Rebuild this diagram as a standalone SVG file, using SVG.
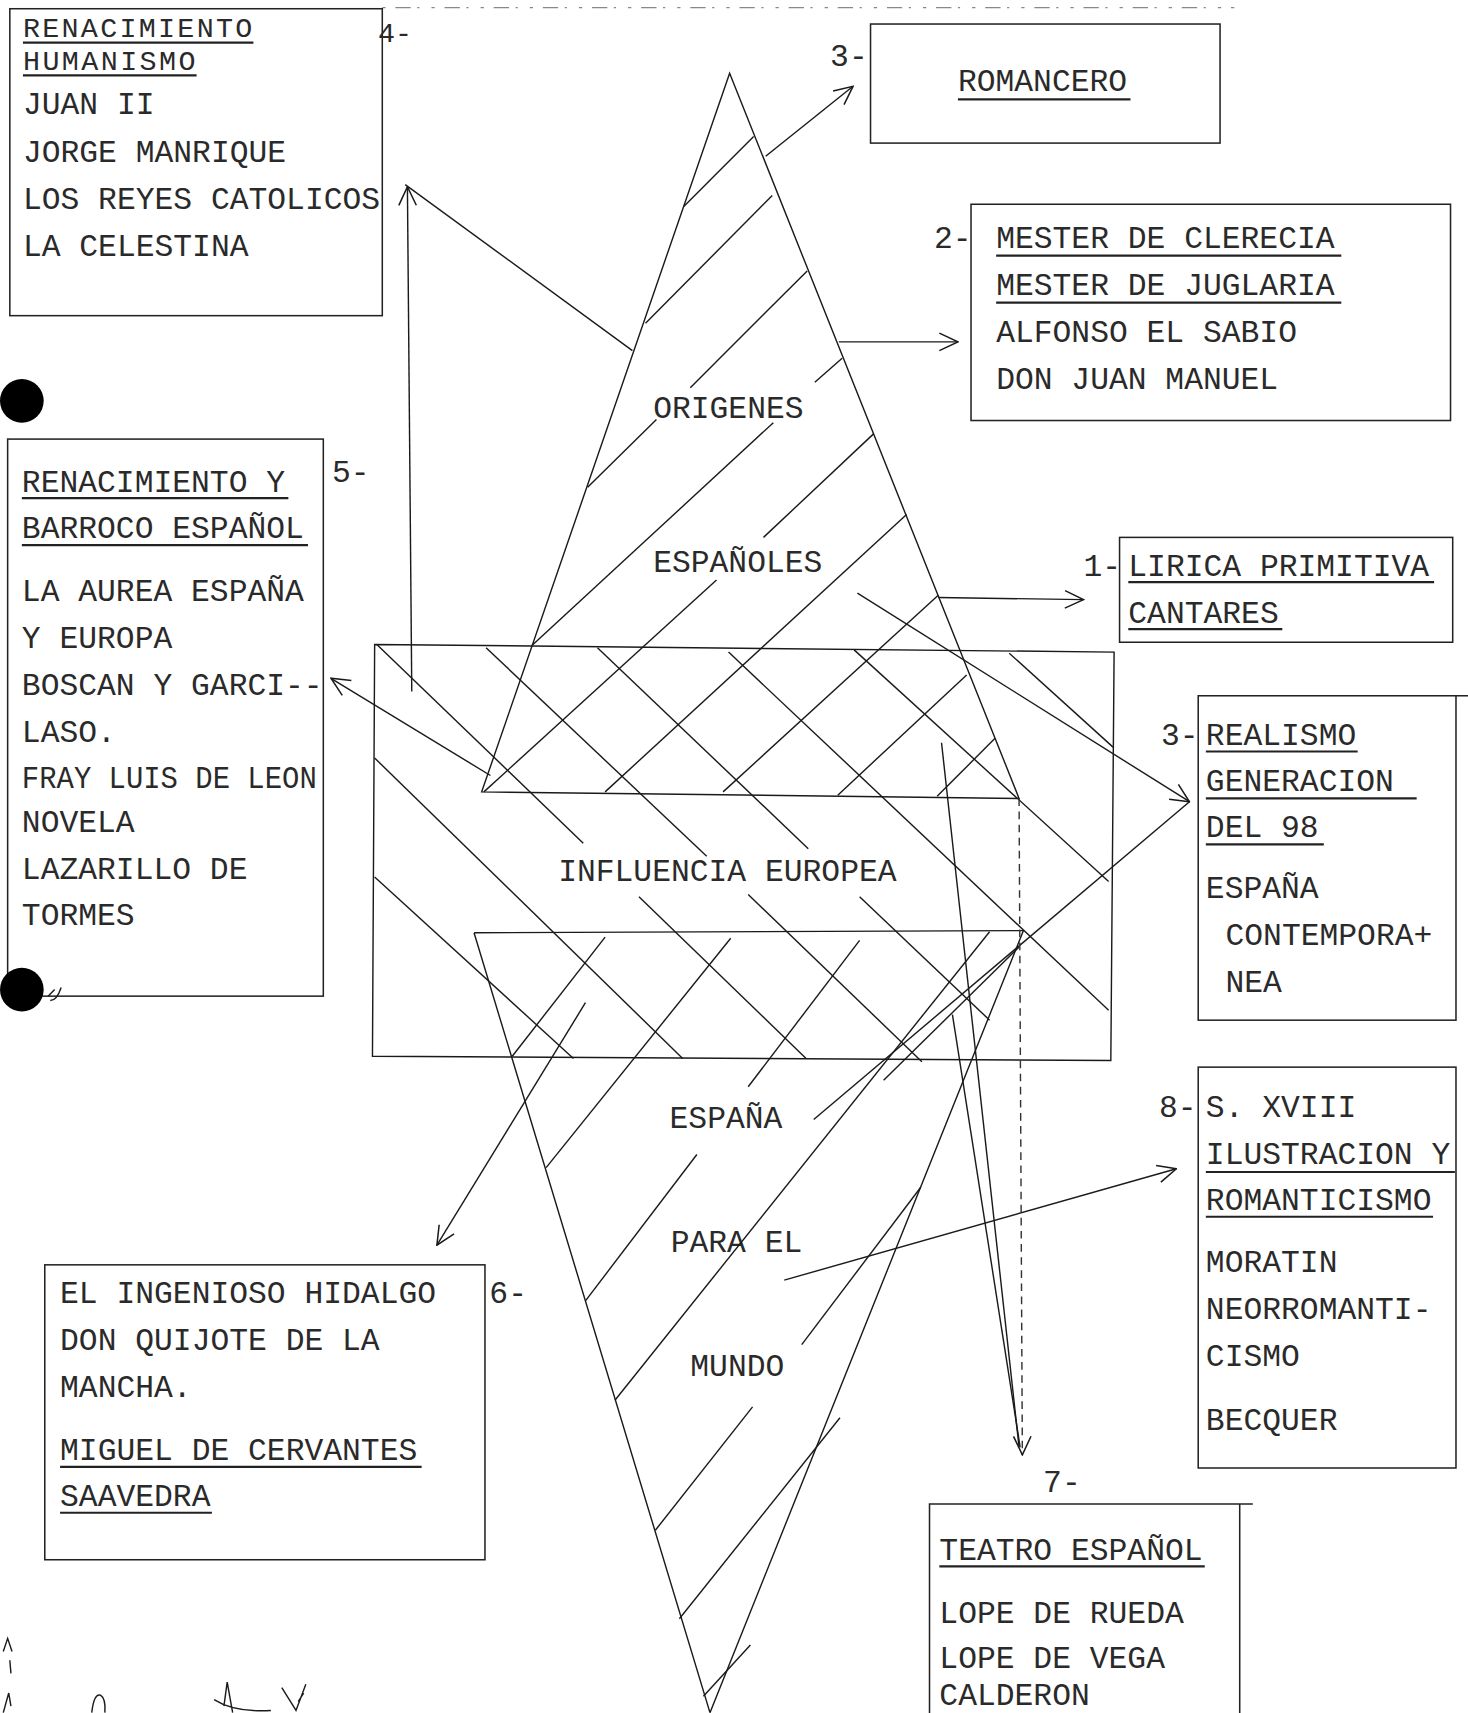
<svg xmlns="http://www.w3.org/2000/svg" width="1468" height="1713" viewBox="0 0 1468 1713">
<defs>
<style>
.t{font-family:"Liberation Mono","DejaVu Sans Mono",monospace;font-size:28.7px;fill:#2a2a2a}
.s{font-size:26px}
.box{fill:none;stroke:#222;stroke-width:1.4}
.ul{stroke:#222;stroke-width:2;fill:none}
.ln{stroke:#1a1a1a;stroke-width:1.3;fill:none}
.dash{stroke:#333;stroke-width:1.3;stroke-dasharray:7 5;fill:none}
.noise{stroke:#888;stroke-width:1.1;stroke-dasharray:3 9 14 6 2 11;fill:none}
</style>
<marker id="ah" viewBox="0 0 20 20" refX="19" refY="10" markerWidth="20" markerHeight="20" markerUnits="userSpaceOnUse" orient="auto"><path d="M2,2 L19,10 L2,18" fill="none" stroke="#1a1a1a" stroke-width="1.4"/></marker>
</defs>
<rect width="1468" height="1713" fill="#fff"/>
<g transform="scale(1.09226)">

<path class="noise" d="M350,7 H1130"/>

<g id="n4">
<rect class="box" x="9" y="8" width="341" height="281"/>
<text class="t s" x="21" y="34" textLength="210" lengthAdjust="spacing">RENACIMIENTO</text>
<line class="ul" x1="21" y1="39" x2="232" y2="39"/>
<text class="t s" x="21" y="64" textLength="158" lengthAdjust="spacing">HUMANISMO</text>
<line class="ul" x1="21" y1="69" x2="180" y2="69"/>
<text class="t" x="21" y="104">JUAN II</text>
<text class="t" x="21" y="148">JORGE MANRIQUE</text>
<text class="t" x="21" y="191">LOS REYES CATOLICOS</text>
<text class="t" x="21" y="234">LA CELESTINA</text>
<text class="t s" x="346" y="38">4-</text>
</g>

<g id="n3a">
<rect class="box" x="797" y="22" width="320" height="109"/>
<text class="t" x="877" y="83">ROMANCERO</text>
<line class="ul" x1="877" y1="91" x2="1035" y2="91"/>
<text class="t" x="760" y="60">3-</text>
</g>

<g id="n2">
<rect class="box" x="889" y="187" width="439" height="198"/>
<text class="t" x="912" y="227">MESTER DE CLERECIA</text>
<line class="ul" x1="912" y1="234" x2="1228" y2="234"/>
<text class="t" x="912" y="270">MESTER DE JUGLARIA</text>
<line class="ul" x1="912" y1="277" x2="1228" y2="277"/>
<text class="t" x="912" y="313">ALFONSO EL SABIO</text>
<text class="t" x="912" y="356">DON JUAN MANUEL</text>
<text class="t" x="855" y="227">2-</text>
</g>

<g id="n1">
<rect class="box" x="1025" y="492" width="305" height="96"/>
<text class="t" x="1033" y="527">LIRICA PRIMITIVA</text>
<line class="ul" x1="1033" y1="533" x2="1313" y2="533"/>
<text class="t" x="1033" y="570">CANTARES</text>
<line class="ul" x1="1033" y1="576" x2="1174" y2="576"/>
<text class="t" x="992" y="527">1-</text>
</g>

<g id="n3b">
<rect class="box" x="1097" y="637" width="236" height="297"/>
<line class="box" x1="1333" y1="637" x2="1344" y2="637"/>
<text class="t" x="1104" y="682">REALISMO</text>
<line class="ul" x1="1104" y1="688" x2="1243" y2="688"/>
<text class="t" x="1104" y="724">GENERACION</text>
<line class="ul" x1="1104" y1="731" x2="1297" y2="731"/>
<text class="t" x="1104" y="766">DEL 98</text>
<line class="ul" x1="1104" y1="773" x2="1212" y2="773"/>
<text class="t" x="1104" y="822">ESPAÑA</text>
<text class="t" x="1122" y="865">CONTEMPORA+</text>
<text class="t" x="1122" y="908">NEA</text>
<text class="t" x="1063" y="682">3-</text>
</g>

<g id="n8">
<rect class="box" x="1097" y="977" width="236" height="367"/>
<text class="t" x="1104" y="1023">S. XVIII</text>
<text class="t" x="1104" y="1066">ILUSTRACION Y</text>
<line class="ul" x1="1104" y1="1073" x2="1332" y2="1073"/>
<text class="t" x="1104" y="1108">ROMANTICISMO</text>
<line class="ul" x1="1104" y1="1114" x2="1312" y2="1114"/>
<text class="t" x="1104" y="1165">MORATIN</text>
<text class="t" x="1104" y="1208">NEORROMANTI-</text>
<text class="t" x="1104" y="1251">CISMO</text>
<text class="t" x="1104" y="1309">BECQUER</text>
<text class="t" x="1061" y="1023">8-</text>
</g>

<g id="n7">
<path class="box" d="M851,1600 V1377 H1147 M1135,1377 V1600"/>
<text class="t" x="860" y="1428">TEATRO ESPAÑOL</text>
<line class="ul" x1="860" y1="1434" x2="1103" y2="1434"/>
<text class="t" x="860" y="1486">LOPE DE RUEDA</text>
<text class="t" x="860" y="1527">LOPE DE VEGA</text>
<text class="t" x="860" y="1561">CALDERON</text>
<text class="t" x="955" y="1366">7-</text>
</g>

<g id="n6">
<rect class="box" x="41" y="1158" width="403" height="270"/>
<text class="t" x="55" y="1193">EL INGENIOSO HIDALGO</text>
<text class="t" x="55" y="1236">DON QUIJOTE DE LA</text>
<text class="t" x="55" y="1279">MANCHA.</text>
<text class="t" x="55" y="1337">MIGUEL DE CERVANTES</text>
<line class="ul" x1="55" y1="1343" x2="386" y2="1343"/>
<text class="t" x="55" y="1379">SAAVEDRA</text>
<line class="ul" x1="55" y1="1385" x2="194" y2="1385"/>
<text class="t" x="448" y="1193">6-</text>
</g>

<g id="n5">
<rect class="box" x="7" y="402" width="289" height="510"/>
<text class="t" x="20" y="450">RENACIMIENTO Y</text>
<line class="ul" x1="20" y1="456" x2="264" y2="456"/>
<text class="t" x="20" y="493">BARROCO ESPAÑOL</text>
<line class="ul" x1="20" y1="499" x2="282" y2="499"/>
<text class="t" x="20" y="550">LA AUREA ESPAÑA</text>
<text class="t" x="20" y="593">Y EUROPA</text>
<text class="t" x="20" y="636">BOSCAN Y GARCI--</text>
<text class="t" x="20" y="679">LASO.</text>
<text class="t" x="20" y="721" textLength="270" lengthAdjust="spacingAndGlyphs">FRAY LUIS DE LEON</text>
<text class="t" x="20" y="762">NOVELA</text>
<text class="t" x="20" y="805">LAZARILLO DE</text>
<text class="t" x="20" y="847">TORMES</text>
<text class="t" x="304" y="441">5-</text>
</g>

<g id="dots">
<circle cx="20" cy="367" r="20" fill="#000"/>
<circle cx="20" cy="906" r="20" fill="#000"/>
<path class="ln" d="M44,912 L50,906 M46,916 Q52,916 56,904"/>
</g>

<g id="diagram">
<path class="ln" d="M668,67 L441,725 L933,731 Z"/>
<path class="ln" d="M343,590 L1020,597 L1017,971 L341,967 Z"/>
<path class="ln" d="M434,854 L937,852 M434,854 L650,1568 M937,852 L650,1568"/>
<text class="t" x="598" y="383">ORIGENES</text>
<text class="t" x="598" y="524">ESPAÑOLES</text>
<text class="t" x="511" y="807">INFLUENCIA EUROPEA</text>
<text class="t" x="613" y="1033">ESPAÑA</text>
<text class="t" x="614" y="1146">PARA EL</text>
<text class="t" x="632" y="1260">MUNDO</text>
</g>

<g id="hatch" class="ln">
<line x1="626" y1="189" x2="690" y2="125"/>
<line x1="591" y1="296" x2="707" y2="179"/>
<line x1="632" y1="355" x2="739" y2="248"/>
<line x1="538" y1="446" x2="601" y2="384"/>
<line x1="746" y1="350" x2="771" y2="328"/>
<line x1="699" y1="492" x2="800" y2="397"/>
<line x1="487" y1="591" x2="708" y2="387"/>
<line x1="656" y1="531" x2="443" y2="725"/>
<line x1="830" y1="471" x2="554" y2="725"/>
<line x1="859" y1="545" x2="662" y2="725"/>
<line x1="885" y1="618" x2="767" y2="728"/>
<line x1="911" y1="676" x2="858" y2="729"/>
<line x1="345" y1="590" x2="534" y2="772"/>
<line x1="585" y1="821" x2="738" y2="969"/>
<line x1="445" y1="593" x2="647" y2="784"/>
<line x1="685" y1="819" x2="844" y2="972"/>
<line x1="547" y1="593" x2="740" y2="777"/>
<line x1="787" y1="821" x2="906" y2="934"/>
<line x1="667" y1="597" x2="1015" y2="925"/>
<line x1="782" y1="595" x2="1015" y2="807"/>
<line x1="924" y1="598" x2="1019" y2="684"/>
<line x1="343" y1="694" x2="625" y2="969"/>
<line x1="343" y1="803" x2="525" y2="969"/>
<line x1="554" y1="858" x2="469" y2="967"/>
<line x1="669" y1="859" x2="500" y2="1069"/>
<line x1="787" y1="861" x2="685" y2="995"/>
<line x1="638" y1="1057" x2="536" y2="1191"/>
<line x1="906" y1="853" x2="563" y2="1282"/>
<line x1="843" y1="1087" x2="734" y2="1231"/>
<line x1="689" y1="1288" x2="600" y2="1401"/>
<line x1="769" y1="1298" x2="622" y2="1482"/>
<line x1="687" y1="1506" x2="644" y2="1553"/>
<line x1="933" y1="867" x2="809" y2="989"/>
</g>

<g id="connectors" class="ln">
<line x1="579" y1="321" x2="371" y2="169"/>
<line x1="377" y1="633" x2="373" y2="171" marker-end="url(#ah)"/>
<line x1="701" y1="143" x2="781" y2="79" marker-end="url(#ah)"/>
<line x1="768" y1="313" x2="877" y2="313" marker-end="url(#ah)"/>
<line x1="859" y1="547" x2="992" y2="549" marker-end="url(#ah)"/>
<line x1="785" y1="543" x2="1089" y2="734" marker-end="url(#ah)"/>
<line x1="745" y1="1025" x2="1089" y2="734"/>
<line x1="449" y1="710" x2="303" y2="621" marker-end="url(#ah)"/>
<line x1="536" y1="918" x2="400" y2="1140" marker-end="url(#ah)"/>
<line x1="718" y1="1172" x2="1077" y2="1070" marker-end="url(#ah)"/>
<line class="dash" x1="933" y1="731" x2="936" y2="1332" marker-end="url(#ah)"/>
<line x1="862" y1="680" x2="933" y2="1325"/>
<line x1="872" y1="929" x2="934" y2="1325"/>
</g>

<g id="marks" class="ln">
<path d="M3,1512 L7,1500 L11,1512 M9,1520 L10,1532"/>
<path d="M3,1568 L8,1550 L10,1562"/>
<path d="M84,1568 Q86,1550 92,1552 Q97,1555 96,1568"/>
<path d="M205,1562 L208,1540 L213,1568 M196,1556 Q215,1568 248,1566"/>
<path d="M258,1545 L271,1566 L280,1542 M273,1558 L278,1550"/>
</g>
</g>
</svg>
